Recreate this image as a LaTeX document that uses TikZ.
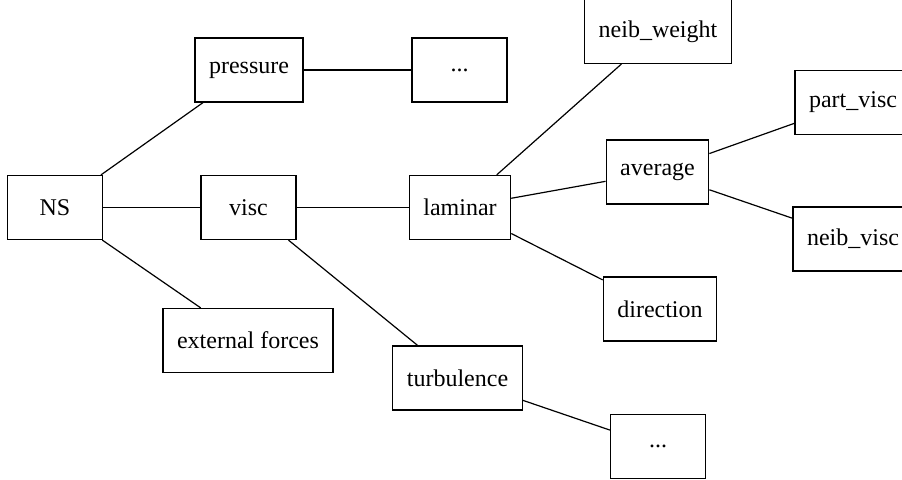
\documentclass[tikz,border=0pt]{standalone}
\usepackage{fontspec}
\setmainfont{Liberation Serif}
\usepackage{tikz}
\begin{document}
\begin{tikzpicture}[
  x=0.5pt,y=-0.5pt,
  box/.style={draw=black,line width=0.6pt,fill=white,minimum width=47.5pt,minimum height=32pt,inner xsep=7pt,font=\fontsize{12}{14}\selectfont},
  link/.style={line width=0.6pt,draw=black}
]
\useasboundingbox (0,0) rectangle (902,480);
\node[box] (ns) at (55,207.5) {NS};
\node[box] (pressure) at (249,70) {pressure};
\node[box] (pdots) at (459.5,70) {...};
\node[box] (visc) at (248.5,207.5) {visc};
\node[box] (extforce) at (248,340.5) {external forces};
\node[box] (laminar) at (460,207.5) {laminar};
\node[box] (neibw) at (658,31.5) {neib\_weight};
\node[box] (average) at (657.5,172) {average};
\node[box] (partvisc) at (853,102.5) {part\_visc};
\node[box] (neibvisc) at (853,239) {neib\_visc};
\node[box] (direction) at (660,309) {direction};
\node[box] (turb) at (457.5,378) {turbulence};
\node[box] (tdots) at (658,446.5) {...};
\draw[link] (ns)--(pressure);
\draw[link] (ns)--(visc);
\draw[link] (ns)--(extforce);
\draw[link] (pressure)--(pdots);
\draw[link] (visc)--(laminar);
\draw[link] (visc)--(turb);
\draw[link] (laminar)--(neibw);
\draw[link] (laminar)--(average);
\draw[link] (laminar)--(direction);
\draw[link] (average)--(partvisc);
\draw[link] (average)--(neibvisc);
\draw[link] (turb)--(tdots);
\end{tikzpicture}
\end{document}
